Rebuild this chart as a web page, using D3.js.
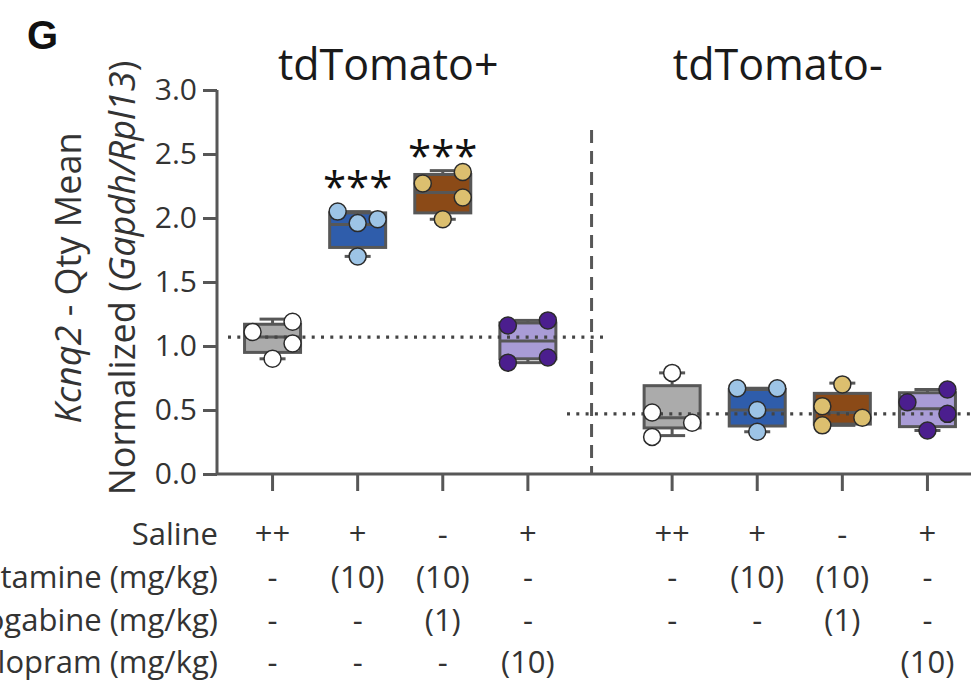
<!doctype html>
<html>
<head>
<meta charset="utf-8">
<script src="https://d3js.org/d3.v7.min.js"></script>
<style>
  body { margin: 0; background: #fff; }
  svg { display: block; font-family: "Open Sans", sans-serif; }
</style>
</head>
<body>
<div id="chart"></div>
<script>
// panels and conditions
var panels = ["tdTomato+", "tdTomato-"];
var conditions = ["Saline", "Ketamine", "Ketamine + Ezogabine", "Escitalopram"];
var boxFill = ["#ababab", "#2f5dab", "#8b4a17", "#a99cd6"];
var dotFill = ["#ffffff", "#9dc4e6", "#dcbf6f", "#4b1e8e"];

// tdTomato+ box stats
var plusMin = [0.90, 1.70, 1.99, 0.87];
var plusQ1  = [0.95, 1.77, 2.04, 0.90];
var plusMed = [1.07, 1.95, 2.20, 1.04];
var plusQ3  = [1.17, 2.04, 2.34, 1.18];
var plusMax = [1.21, 2.05, 2.37, 1.20];
var plusPoints = [[1.11, 1.19, 1.02, 0.90], [2.05, 1.96, 1.99, 1.70],
                  [2.36, 2.27, 2.16, 1.99], [1.16, 1.20, 0.87, 0.91]];
var plusSide = [[-1, 1, 1, 0], [-1, 0, 1, 0], [1, -1, 1, 0], [-1, 1, -1, 1]];

// tdTomato- box stats
var minusMin = [0.30, 0.33, 0.38, 0.34];
var minusQ1  = [0.36, 0.375, 0.39, 0.37];
var minusMed = [0.44, 0.50, 0.48, 0.51];
var minusQ3  = [0.69, 0.66, 0.63, 0.635];
var minusMax = [0.79, 0.67, 0.71, 0.66];
var minusPoints = [[0.79, 0.48, 0.40, 0.29], [0.67, 0.67, 0.50, 0.33],
                   [0.70, 0.53, 0.44, 0.38], [0.66, 0.56, 0.47, 0.34]];
var minusSide = [[0, -1, 1, -1], [-1, 1, 0, 0], [0, -1, 1, -1], [1, -1, 1, 0]];

// saline group means (dotted lines)
var refMean = [1.07, 0.47];

// significance marks (tdTomato+ only)
var starCond = [1, 2];
var starLevel = [2.14, 2.38];

var yTicks = [0, 0.5, 1, 1.5, 2, 2.5, 3];

// treatment table
var rowLabels = ["Saline", "Ketamine (mg/kg)", "Ezogabine (mg/kg)", "Escitalopram (mg/kg)"];
var plusTable = [["++", "+", "-", "+"], ["-", "(10)", "(10)", "-"], ["-", "-", "(1)", "-"], ["-", "-", "-", "(10)"]];
var minusTable = [["++", "+", "-", "+"], ["-", "(10)", "(10)", "-"], ["-", "-", "(1)", "-"], ["", "", "", "(10)"]];

var W = 971, H = 687;
var axisColor = "#575757";

var svg = d3.select("#chart").append("svg")
  .attr("width", W).attr("height", H);

var y = d3.scaleLinear().domain([0, 3]).range([474, 90]);
var x0 = d3.scaleBand().domain(panels).range([230, 970]).paddingInner(0.148);
var x1 = d3.scaleBand().domain(conditions).range([0, x0.bandwidth()]);
function cx(p, c) { return x0(panels[p]) + x1(conditions[c]) + x1.bandwidth() / 2; }

// panel letter
svg.append("text").attr("x", 27).attr("y", 49)
  .style("font-family", "'Liberation Sans', Arial, sans-serif")
  .style("font-weight", "bold").style("font-size", "40px").attr("fill", "#111").text("G");

// panel titles
svg.selectAll(".ptitle").data(panels).enter().append("text")
  .attr("class", "ptitle")
  .attr("x", function(d, i) { return x0(d) + x0.bandwidth() / 2 - (i ? 22 : 12); })
  .attr("y", 80).attr("text-anchor", "middle")
  .style("font-size", "43px").attr("fill", "#1a1a1a")
  .text(function(d) { return d; });

// y axis
var yAxis = svg.append("g").attr("transform", "translate(217,0)")
  .call(d3.axisLeft(y).tickValues(yTicks).tickSize(14).tickPadding(6)
    .tickFormat(d3.format(".1f")));
yAxis.select(".domain").attr("stroke", axisColor).attr("stroke-width", 3)
  .attr("d", "M0," + y(3) + "V" + y(0));
yAxis.selectAll(".tick line").attr("stroke", axisColor).attr("stroke-width", 3);
yAxis.selectAll(".tick text").attr("fill", "#333").style("font-size", "30px")
  .style("font-family", "'Open Sans', sans-serif");

// x axis line and ticks
svg.append("line").attr("x1", 216).attr("x2", W).attr("y1", y(0)).attr("y2", y(0))
  .attr("stroke", axisColor).attr("stroke-width", 3);
panels.forEach(function(p, pi) {
  conditions.forEach(function(c, ci) {
    svg.append("line").attr("x1", cx(pi, ci)).attr("x2", cx(pi, ci))
      .attr("y1", y(0)).attr("y2", y(0) + 17)
      .attr("stroke", axisColor).attr("stroke-width", 3);
  });
});

// y label
var ylab = svg.append("g").attr("transform", "translate(0,278) rotate(-90)")
  .style("font-size", "36px").attr("fill", "#333");
var l1 = ylab.append("text").attr("x", 0).attr("y", 81).attr("text-anchor", "middle");
l1.append("tspan").style("font-style", "italic").text("Kcnq2");
l1.append("tspan").text(" - Qty Mean");
var l2 = ylab.append("text").attr("x", 0).attr("y", 135).attr("text-anchor", "middle");
l2.append("tspan").text("Normalized (");
l2.append("tspan").style("font-style", "italic").text("Gapdh/Rpl13");
l2.append("tspan").text(")");

// divider
var divX = x0(panels[1]) - 38;
svg.append("line").attr("x1", divX).attr("x2", divX).attr("y1", 130).attr("y2", y(0))
  .attr("stroke", axisColor).attr("stroke-width", 3).attr("stroke-dasharray", "13,8");

var stats = [
  { min: plusMin, q1: plusQ1, med: plusMed, q3: plusQ3, max: plusMax, pts: plusPoints, side: plusSide },
  { min: minusMin, q1: minusQ1, med: minusMed, q3: minusQ3, max: minusMax, pts: minusPoints, side: minusSide }
];
var boxW = 56, capW = 26, jit = 20;

stats.forEach(function(s, pi) {
  var g = svg.append("g");
  conditions.forEach(function(c, ci) {
    var x = cx(pi, ci);
    // whiskers
    g.append("line").attr("x1", x).attr("x2", x).attr("y1", y(s.max[ci])).attr("y2", y(s.min[ci]))
      .attr("stroke", axisColor).attr("stroke-width", 3);
    [s.max[ci], s.min[ci]].forEach(function(v) {
      g.append("line").attr("x1", x - capW / 2).attr("x2", x + capW / 2)
        .attr("y1", y(v)).attr("y2", y(v))
        .attr("stroke", axisColor).attr("stroke-width", 3);
    });
    g.append("rect").attr("x", x - boxW / 2).attr("width", boxW)
      .attr("y", y(s.q3[ci])).attr("height", y(s.q1[ci]) - y(s.q3[ci]))
      .attr("fill", boxFill[ci]).attr("stroke", axisColor).attr("stroke-width", 3);
    g.append("line").attr("x1", x - boxW / 2).attr("x2", x + boxW / 2)
      .attr("y1", y(s.med[ci])).attr("y2", y(s.med[ci]))
      .attr("stroke", axisColor).attr("stroke-width", 3);
  });
});

// dotted mean lines
svg.append("line").attr("x1", 228).attr("x2", 606)
  .attr("y1", y(refMean[0])).attr("y2", y(refMean[0]))
  .attr("stroke", "#444").attr("stroke-width", 3.2).attr("stroke-dasharray", "3,6.3");
svg.append("line").attr("x1", 567).attr("x2", W)
  .attr("y1", y(refMean[1])).attr("y2", y(refMean[1]))
  .attr("stroke", "#444").attr("stroke-width", 3.2).attr("stroke-dasharray", "3,6.3");

// points
stats.forEach(function(s, pi) {
  conditions.forEach(function(c, ci) {
    svg.selectAll(null).data(s.pts[ci]).enter().append("circle")
      .attr("cx", function(d, i) { return cx(pi, ci) + s.side[ci][i] * jit; })
      .attr("cy", function(d) { return y(d); })
      .attr("r", 8.5)
      .attr("fill", dotFill[ci]).attr("stroke", "#2b2b2b").attr("stroke-width", 1.5);
  });
});

// stars
starCond.forEach(function(ci, i) {
  svg.append("text").attr("x", cx(0, ci)).attr("y", y(starLevel[i]) + 2)
    .attr("text-anchor", "middle").style("font-size", "42px").attr("fill", "#111")
    .text("***");
});

// treatment table
var rowY = [545, 588, 631, 673];
var tbl = svg.append("g").style("font-size", "31px").attr("fill", "#333");
rowLabels.forEach(function(r, ri) {
  tbl.append("text").attr("x", 218).attr("y", rowY[ri]).attr("text-anchor", "end").text(r);
  [plusTable, minusTable].forEach(function(t, pi) {
    t[ri].forEach(function(v, ci) {
      tbl.append("text").attr("x", cx(pi, ci)).attr("y", rowY[ri])
        .attr("text-anchor", "middle").text(v);
    });
  });
});
</script>
</body>
</html>
